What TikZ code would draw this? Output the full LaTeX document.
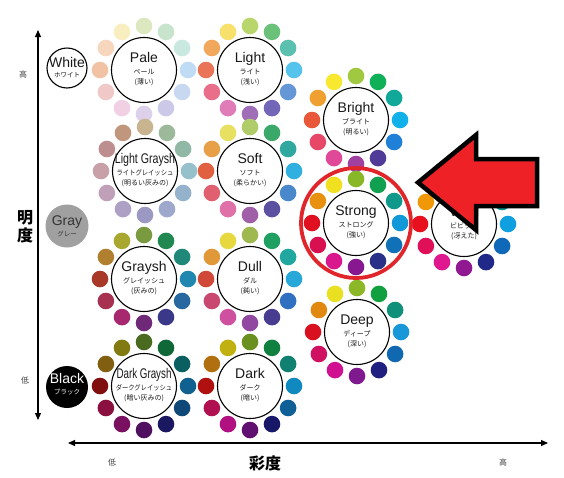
\documentclass[tikz,border=0pt]{standalone}
\usepackage{fontspec}
\usepackage{graphicx}
\setmainfont{Liberation Sans}
\newfontfamily\jp{Noto Sans CJK JP}
\usetikzlibrary{calc,arrows.meta}
\definecolor{ringred}{HTML}{E0262A}
\definecolor{arrowred}{HTML}{EE2226}
\definecolor{grayfill}{HTML}{A0A0A0}
\tikzset{
  wheelc/.style={circle, draw=black, line width=1.1pt, fill=white, minimum size=65pt, inner sep=0pt},
  ttl/.style={anchor=base, inner sep=0pt, font=\fontsize{14}{14}\selectfont, text=black!90},
  sub/.style={anchor=base, inner sep=0pt, font=\jp\fontsize{7}{7}\selectfont, text=black!90},
  tonec/.style={circle, minimum size=#1, inner sep=0pt},
  axis/.style={line width=1.1pt, {Triangle[length=7pt,width=6pt]}-{Triangle[length=7pt,width=6pt]}},
  axlab/.style={inner sep=0pt, font=\jp\fontsize{8}{8}\selectfont, text=black!75},
  bigjp/.style={inner sep=0pt, font=\jp\bfseries\fontsize{16}{18}\selectfont, align=center},
  bigarrow/.style={fill=arrowred, draw=black, line width=4.5pt, line join=miter},
}
\newcommand\wheel[7]{%
  \foreach \col [count=\i] in {#4}{%
    \definecolor{dotc}{HTML}{\col}%
    \fill[dotc] ($(#2,#3)+({270+30*(\i-1)}:44)$) circle[radius=8.3];
  }
  \node[wheelc] (#1) at (#2,#3) {};
  \node[ttl] (#1-t) at ($(#1.center)+(0,-8)$) {#5};
  \node[sub] (#1-a) at ($(#1.center)+(0,4.7)$) {#6};
  \node[sub] (#1-b) at ($(#1.center)+(0,14.7)$) {#7};
}
\begin{document}
\begin{tikzpicture}[x=1pt,y=-1pt]
\useasboundingbox[fill=white] (0,0) rectangle (564,477);

% axes
\coordinate (vtop) at (38,30);
\coordinate (vbot) at (38,420);
\draw[axis] (vtop) -- (vbot);
\coordinate (hl) at (68,443);
\coordinate (hr) at (548,443);
\draw[axis] (hl) -- (hr);
\node[axlab] (hi1) at (23,74) {高};
\node[axlab] (lo1) at (25,380) {低};
\node[bigjp] (meido) at (25,227) {明\\度};
\node[axlab] (lo2) at (112,462) {低};
\node[bigjp] (saido) at (265,463) {彩度};
\node[axlab] (hi2) at (503,462) {高};

% achromatic
\node[tonec=40pt, draw=black, line width=1.1pt, fill=white] (white) at (67,68) {};
\node[ttl] (white-t) at (67,67) {White};
\node[sub, font=\jp\fontsize{6.5}{6.5}\selectfont] (white-a) at (67,77.5) {ホワイト};
\node[tonec=43pt, fill=grayfill] (gray) at (67,226) {};
\node[ttl, text=black!80] (gray-t) at (67,225) {Gray};
\node[sub, font=\jp\fontsize{6.5}{6.5}\selectfont, text=black!80] (gray-a) at (67,236.5) {グレー};
\node[tonec=42pt, fill=black] (black) at (67,387) {};
\node[ttl, text=white] (black-t) at (67,383) {Black};
\node[sub, font=\jp\fontsize{6.5}{6.5}\selectfont, text=white] (black-a) at (67,394.5) {ブラック};

% wheels
\wheel{pale}{144}{70}{DCE8C0,C9E4CC,C8E8E0,C0DCF4,C8D8F0,CCC8E8,DCD0EA,F0D0E2,F0C8C8,F2C2A4,F6D6BC,F8EEC0}{Pale}{ペール}{(薄い)}
\wheel{light}{250}{70}{B8D66C,6CC17A,5BC0B0,55C3EC,6596D6,7166B8,A06EB6,E07CB8,E86E8A,EA7458,F2A85C,F8E06C}{Light}{ライト}{(浅い)}
\wheel{lgraysh}{145}{171}{C8B48E,9CBA9A,90B8A4,96C0CC,94B2CC,9EA8CC,9C98C4,AEA0C4,C0A0B8,C8A0A8,BC8E8E,C0967C}{\scalebox{0.76}[1]{Light Graysh}}{\scalebox{0.9}[1]{ライトグレイッシュ}}{(明るい灰みの)}
\wheel{soft}{250}{171}{B0CC68,3AA868,30A8A0,30B0E0,4A88CC,5C50A0,A060A8,E070A8,E06070,E06040,E8A048,E8E060}{Soft}{ソフト}{(柔らかい)}
\wheel{graysh}{144}{279}{7A9A40,208850,208878,2088B0,2868A0,3A3888,702878,A82870,A83050,A83828,B08030,A8A830}{Graysh}{グレイッシュ}{(灰みの)}
\wheel{dull}{250}{279}{A0B850,20A060,20A8A0,28A8D8,3070C0,483C90,9048A0,D050A0,C84870,D04838,E09838,E8D840}{Dull}{ダル}{(鈍い)}
\wheel{dgraysh}{144}{386}{4A6A20,106838,0A6060,106090,104878,1A1860,501060,7A1060,8A1040,801010,806010,807A10}{\scalebox{0.7}[1]{Dark Graysh}}{\scalebox{0.9}[1]{ダークグレイッシュ}}{(暗い灰みの)}
\wheel{dark}{250}{386}{6A9020,108040,108070,1088C0,106098,181868,601070,B01080,B01050,B01010,B07010,C0B010}{Dark}{ダーク}{(暗い)}
\wheel{bright}{356}{120}{A0C840,10B058,10A898,10B0E8,2080D8,503C98,A040A0,E04898,E84868,E85838,F0A030,F8E830}{Bright}{ブライト}{(明るい)}
\wheel{strong}{356}{223}{88B828,10A050,10988A,1098D8,1070B8,283088,881890,D8188C,D81050,E01020,E89010,F0E020}{Strong}{ストロング}{(強い)}
\wheel{deep}{357}{332}{8CB828,10A040,109078,1898D8,1068B0,202080,801890,D01090,D01060,D81020,E08810,E8E020}{Deep}{ディープ}{(深い)}
\wheel{vivid}{464}{224}{90C020,00A050,009890,10A0E0,1068B8,202888,901890,E01890,E01058,E8101E,F09808,F8E800}{Vivid}{ビビッド}{(冴えた)}

% highlight ring
\node[circle, draw=ringred, line width=3.8pt, minimum size=110pt, inner sep=0pt] (ring) at (strong) {};

% big red arrow
\draw[bigarrow] (418,182.5) -- (476,135) -- (476,159) -- (537,159) -- (537,206) -- (476,206) -- (476,230) -- cycle;
\end{tikzpicture}
\end{document}
